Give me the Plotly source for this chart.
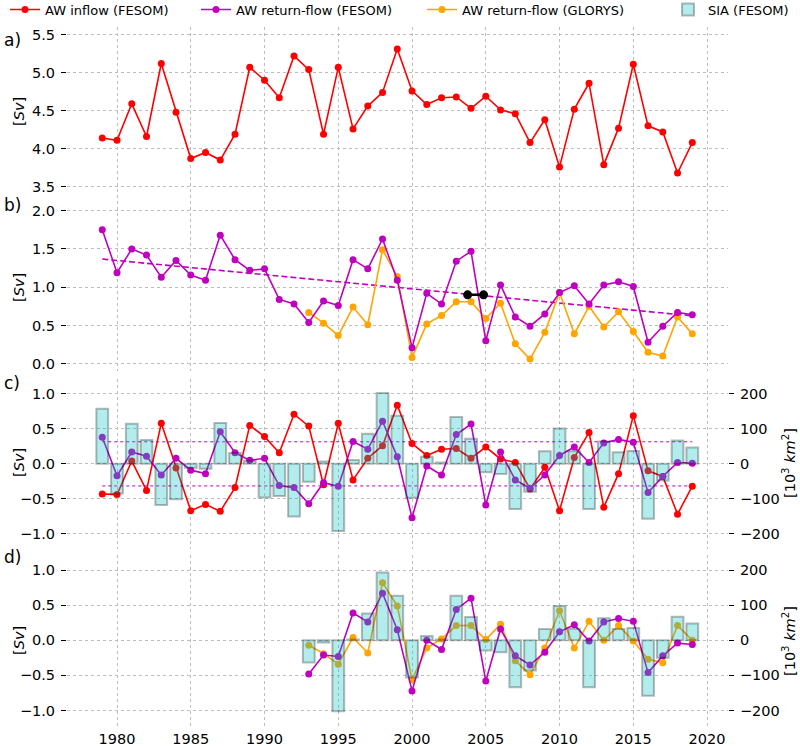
import numpy as np
import plotly.graph_objects as go

# ---------------- data ----------------
years = list(range(1979, 2020))
years_glorys = list(range(1993, 2020))

aw_inflow = [4.14, 4.11, 4.59, 4.16, 5.12, 4.48, 3.87, 3.95, 3.85, 4.19,
             5.07, 4.90, 4.67, 5.22, 5.04, 4.19, 5.07, 4.26, 4.56, 4.74,
             5.31, 4.76, 4.58, 4.67, 4.68, 4.53, 4.69, 4.51, 4.46, 4.08,
             4.38, 3.76, 4.52, 4.86, 3.79, 4.27, 5.11, 4.30, 4.22, 3.68, 4.08]

return_fesom = [1.75, 1.19, 1.50, 1.42, 1.13, 1.35, 1.16, 1.09, 1.68, 1.36,
                1.22, 1.24, 0.84, 0.78, 0.54, 0.82, 0.76, 1.36, 1.24, 1.63,
                1.09, 0.21, 0.92, 0.78, 1.34, 1.47, 0.30, 1.03, 0.61, 0.49,
                0.65, 0.93, 1.02, 0.78, 1.03, 1.07, 1.01, 0.28, 0.49, 0.67, 0.64]

return_glorys = [0.67, 0.53, 0.37, 0.74, 0.51, 1.49, 1.14, 0.08, 0.52, 0.63,
                 0.81, 0.81, 0.59, 0.79, 0.26, 0.06, 0.41, 0.93, 0.39, 0.75,
                 0.48, 0.68, 0.42, 0.15, 0.10, 0.61, 0.39]

marker_x = [2003.77, 2004.85]
marker_y = [0.90, 0.90]

c_inflow = [-0.43, -0.44, 0.04, -0.38, 0.58, -0.06, -0.67, -0.58, -0.68, -0.34,
            0.55, 0.39, 0.16, 0.71, 0.54, -0.30, 0.58, -0.23, 0.08, 0.26,
            0.84, 0.29, 0.12, 0.21, 0.22, 0.08, 0.24, 0.07, 0.02, -0.36,
            -0.05, -0.67, 0.09, 0.45, -0.62, -0.14, 0.69, -0.10, -0.18, -0.72, -0.32]

c_return = [0.38, -0.17, 0.17, 0.11, -0.16, 0.08, -0.09, -0.14, 0.46, 0.16,
            0.05, 0.08, -0.31, -0.34, -0.57, -0.27, -0.32, 0.32, 0.21, 0.61,
            0.10, -0.77, -0.03, -0.16, 0.42, 0.57, -0.59, 0.17, -0.23, -0.35,
            -0.16, 0.12, 0.24, 0.02, 0.30, 0.35, 0.31, -0.41, -0.18, 0.02, 0.01]

c_sia = [158, -85, 115, 68, -118, -101, -11, -14, 117, 31,
         9, -96, -92, -151, -51, 7, -192, 11, 86, 203,
         138, -97, 20, 4, 134, 72, -24, -29, -129, -80,
         36, 101, 36, -129, 64, 33, 37, -157, -48, 67, 47]

c_std = 0.316

d_return = [-0.48, -0.21, -0.23, 0.39, 0.26, 0.67, 0.15, -0.72, 0.00, -0.13,
            0.44, 0.60, -0.58, 0.16, -0.22, -0.35, -0.17, 0.12, 0.22, -0.01,
            0.26, 0.31, 0.27, -0.46, -0.22, -0.04, -0.06]

d_glorys = [-0.07, -0.19, -0.34, 0.04, -0.18, 0.82, 0.49, -0.56, -0.11, 0.02,
            0.21, 0.21, 0.01, 0.23, -0.29, -0.49, -0.11, 0.42, -0.11, 0.27,
            0.00, 0.21, -0.01, -0.27, -0.32, 0.21, 0.00]

d_sia = [-63, -6, -202, 2, 76, 193, 127, -106, 12, 2,
         127, 66, -29, -34, -134, -86, 32, 98, 33, -134,
         63, 32, 35, -158, -50, 67, 48]

# ---------------- style ----------------
RED = "#ff0000"
MAG = "#bf00bf"
ORA = "#ffa500"
BAR_FILL = "rgba(0,191,191,0.30)"
BAR_EDGE = "rgba(0,0,0,0.27)"
FONT = "DejaVu Sans"
LW = 1.6
MS = 7

fig = go.Figure()


def line(x, y, color, xa, ya, name=None, legend=None, show=False, width=LW):
    fig.add_trace(go.Scatter(
        x=x, y=y, mode="lines+markers", name=name,
        line=dict(color=color, width=width),
        marker=dict(color=color, size=MS),
        xaxis=xa, yaxis=ya, showlegend=show,
        legend=legend if legend else "legend"))


# panel a
line(years, aw_inflow, RED, "x", "y", "AW inflow (FESOM)", "legend", True)

# panel b
trend = np.polyfit(years, return_fesom, 1)
fig.add_trace(go.Scatter(x=[years[0], years[-1]],
                         y=np.polyval(trend, [years[0], years[-1]]),
                         mode="lines", line=dict(color=MAG, width=1.6, dash="6px,3px"),
                         xaxis="x2", yaxis="y2", showlegend=False))
line(years_glorys, return_glorys, ORA, "x2", "y2", "AW return-flow (GLORYS)", "legend3", True)
line(years, return_fesom, MAG, "x2", "y2", "AW return-flow (FESOM)", "legend2", True)
fig.add_trace(go.Scatter(x=marker_x, y=marker_y, mode="lines+markers",
                         line=dict(color="black", width=2.5),
                         marker=dict(color="black", size=9),
                         xaxis="x2", yaxis="y2", showlegend=False))

# panel c
for s in (c_std, -c_std):
    fig.add_trace(go.Scatter(x=[years[0], years[-1]], y=[s, s], mode="lines",
                             line=dict(color=MAG, width=1, dash="dot"),
                             xaxis="x3", yaxis="y3", showlegend=False))
line(years, c_inflow, RED, "x3", "y3")
line(years, c_return, MAG, "x3", "y3")
fig.add_trace(go.Bar(x=years, y=c_sia, width=0.8, name="SIA (FESOM)",
                     marker=dict(color=BAR_FILL, line=dict(color=BAR_EDGE, width=2)),
                     xaxis="x3", yaxis="y5", showlegend=True, legend="legend4"))

# panel d
line(years_glorys, d_glorys, ORA, "x4", "y4")
line(years_glorys, d_return, MAG, "x4", "y4")
fig.add_trace(go.Bar(x=years_glorys, y=d_sia, width=0.8,
                     marker=dict(color=BAR_FILL, line=dict(color=BAR_EDGE, width=2)),
                     xaxis="x4", yaxis="y6", showlegend=False))

# ---------------- layout ----------------
W, H = 800, 746
ML, MR, MT, MB = 67, 72, 27, 20
PW, PH = W - ML - MR, H - MT - MB


def py(p):
    return 1 - (p - MT) / PH


def px(p):
    return (p - ML) / PW


XR = [1976.61, 2021.42]
grid = dict(showgrid=True, gridcolor="#bdbdbd", griddash="dot", gridwidth=1,
            zeroline=False, showline=False, automargin=False)
tickf = dict(family=FONT, size=14.5, color="black")

xcommon = dict(range=XR, tickvals=[1980, 1985, 1990, 1995, 2000, 2005, 2010, 2015, 2020],
               **grid)
ycommon = dict(ticks="outside", ticklen=5, tickcolor="black", tickwidth=1,
               tickfont=tickf, tickformat=".1f", ticklabelstandoff=3, **grid)
yright = dict(ticks="outside", ticklen=5, tickcolor="black", tickwidth=1,
              tickfont=tickf, side="right", showgrid=False, zeroline=False,
              showline=False, range=[-244, 244], tickvals=[-200, -100, 0, 100, 200],
              ticklabelstandoff=3, automargin=False)

dom_a = [py(194.3), 1.0]
dom_b = [py(371.35), py(195.4)]
dom_c = [py(549.1), py(378.6)]
dom_d = [0.0, py(554.6)]

fig.update_layout(
    width=W, height=H,
    margin=dict(l=ML, r=MR, t=MT, b=MB, autoexpand=False),
    paper_bgcolor="white", plot_bgcolor="white",
    font=dict(family=FONT, size=14.5, color="black"),
    barmode="overlay",
    xaxis=dict(domain=[0, 1], anchor="y", showticklabels=False, **xcommon),
    xaxis2=dict(domain=[0, 1], anchor="y2", showticklabels=False, matches="x", **xcommon),
    xaxis3=dict(domain=[0, 1], anchor="y3", showticklabels=False, matches="x", **xcommon),
    xaxis4=dict(domain=[0, 1], anchor="y4", showticklabels=True, matches="x",
                tickfont=tickf, ticklabelstandoff=2, **xcommon),
    yaxis=dict(domain=dom_a, anchor="x", range=[3.4, 5.6],
               tickvals=[3.5, 4.0, 4.5, 5.0, 5.5], **ycommon),
    yaxis2=dict(domain=dom_b, anchor="x2", range=[-0.1, 2.2],
                tickvals=[0.0, 0.5, 1.0, 1.5, 2.0], **ycommon),
    yaxis3=dict(domain=dom_c, anchor="x3", range=[-1.22, 1.22],
                tickvals=[-1.0, -0.5, 0.0, 0.5, 1.0], **ycommon),
    yaxis4=dict(domain=dom_d, anchor="x4", range=[-1.22, 1.22],
                tickvals=[-1.0, -0.5, 0.0, 0.5, 1.0], **ycommon),
    yaxis5=dict(overlaying="y3", anchor="x3", **yright),
    yaxis6=dict(overlaying="y4", anchor="x4", **yright),
)

legend_base = dict(orientation="h", xref="container", yref="container",
                   xanchor="left", yanchor="middle", y=1 - 9.5 / H,
                   bgcolor="rgba(0,0,0,0)", borderwidth=0,
                   font=dict(family=FONT, size=13, color="black"))
fig.update_layout(
    legend=dict(x=5 / W, **legend_base),
    legend2=dict(x=196 / W, **legend_base),
    legend3=dict(x=422 / W, **legend_base),
    legend4=dict(x=668 / W, **legend_base),
)

ann = []
for lab, yy in (("a)", 40), ("b)", 205), ("c)", 383), ("d)", 557)):
    ann.append(dict(text=lab, x=px(2), y=py(yy), xref="paper", yref="paper",
                    xanchor="left", yanchor="middle", showarrow=False,
                    font=dict(family=FONT, size=17, color="black")))
for yy in (112, 288, 463, 641):
    ann.append(dict(text="[<i>Sv</i>]", x=px(19), y=py(yy), xref="paper", yref="paper",
                    textangle=-90, xanchor="center", yanchor="middle", showarrow=False,
                    font=dict(family=FONT, size=14.5, color="black")))
for yy in (463, 641):
    ann.append(dict(text="[10<sup>3</sup> <i>km</i><sup>2</sup>]", x=px(789), y=py(yy),
                    xref="paper", yref="paper", textangle=-90, xanchor="center",
                    yanchor="middle", showarrow=False,
                    font=dict(family=FONT, size=14.5, color="black")))
fig.update_layout(annotations=ann)

fig.write_html("out.html")
